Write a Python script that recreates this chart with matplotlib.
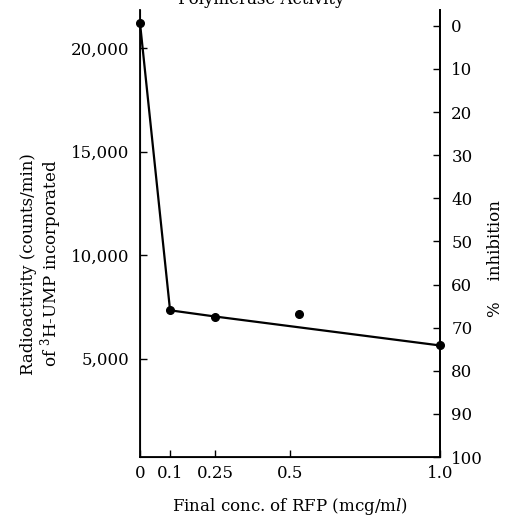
import matplotlib
matplotlib.use('Agg')
import matplotlib.pyplot as plt

plt.rcParams['font.family'] = 'DejaVu Serif'
plt.rcParams['mathtext.fontset'] = 'dejavuserif'

# values
conc = [0, 0.1, 0.25, 1.0]
counts = [21200, 7340, 7040, 5640]
stray_conc = [0.53]
stray_counts = [7160]

xticks = [0, 0.1, 0.25, 0.5, 1.0]
xticklabels = ['0', '0.1', '0.25', '0.5', '1.0']
yticks = [5000, 10000, 15000, 20000]
yticklabels = ['5,000', '10,000', '15,000', '20,000']
inhib_ticks = list(range(0, 101, 10))

fig = plt.figure(figsize=(5.13, 5.17), dpi=100)
ax = fig.add_axes([0.273, 0.116, 0.585, 0.865])

ax.plot(conc, counts, '-', color='black', lw=1.6, marker='o', ms=5.5, clip_on=False, zorder=5)
ax.plot(stray_conc, stray_counts, 'o', color='black', ms=5.5, zorder=5)

ax.set_xlim(0, 1.0)
ax.set_ylim(250, 21860)
ax.set_xticks(xticks)
ax.set_xticklabels(xticklabels, fontsize=12)
ax.set_yticks(yticks)
ax.set_yticklabels(yticklabels, fontsize=12)
ax.tick_params(direction='in', length=5, width=1, pad=8)
ax.tick_params(axis='x', pad=6)
ax.spines['top'].set_visible(False)
for s in ['left', 'bottom', 'right']:
    ax.spines[s].set_linewidth(1.3)

ax2 = ax.twinx()
ax2.set_ylim(100, -3.7)
ax2.set_yticks(inhib_ticks)
ax2.set_yticklabels([str(t) for t in inhib_ticks], fontsize=12)
ax2.tick_params(direction='in', length=5, width=1, pad=8)
ax2.spines['top'].set_visible(False)
ax2.spines['right'].set_linewidth(1.3)

ax.set_xlabel('Final conc. of RFP (mcg/m$\\it{l}$)', fontsize=12, labelpad=10)

fig.text(0.056, 0.49, 'Radioactivity (counts/min)', rotation=90, ha='center', va='center', fontsize=12)
fig.text(0.100, 0.49, 'of $^3$H-UMP incorporated', rotation=90, ha='center', va='center', fontsize=12)
fig.text(0.965, 0.50, '%    inhibition', rotation=90, ha='center', va='center', fontsize=12)

# title is cut off by the top edge in the scan
fig.text(0.509, 1 - 4 / 517, 'Polymerase Activity', ha='center', va='baseline', fontsize=12)

fig.savefig('out.png', dpi=100)
